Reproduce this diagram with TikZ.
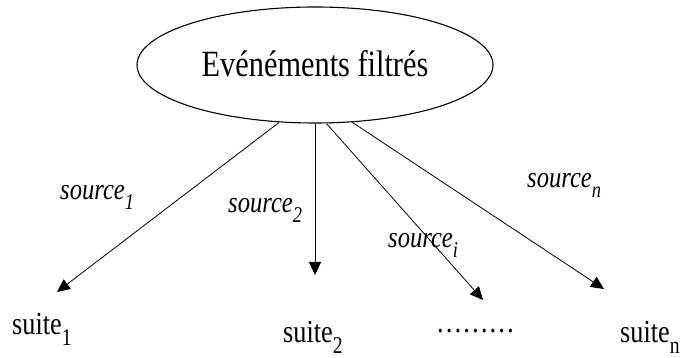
\documentclass[tikz,border=0pt]{standalone}
\usepackage{fontspec}
\setmainfont{Liberation Serif}[FakeStretch=0.82]
\usepackage{graphicx}
\usetikzlibrary{shapes.geometric,arrows.meta}
\newcommand{\lowidx}[1]{\raisebox{-0.32em}{\scalebox{0.75}{#1}}}
\begin{document}
\begin{tikzpicture}[x=1pt,y=1pt,every node/.style={inner sep=0pt,anchor=base west},
    suite/.style={font=\fontsize{32}{36}\selectfont},
    src/.style={font=\fontsize{30}{34}\selectfont\itshape},
    link/.style={-{Triangle[length=13pt,width=12pt]},line width=0.8pt}]
  \useasboundingbox (0,0) rectangle (693,358);
  \node[draw,ellipse,anchor=center,line width=1.1pt,minimum width=356pt,minimum height=116pt,
        text depth=4pt,font=\fontsize{37}{40}\selectfont] (evt) at (315,293) {Evénéments filtrés};
  \node[suite] (s1) at (12,23) {suite\lowidx{1}};
  \node[suite] (s2) at (283,15) {suite\lowidx{2}};
  \node[suite] (sdots) at (436,25) {………};
  \node[suite] (sn) at (620,15) {suite\lowidx{n}};
  \coordinate (t1) at (57,66);
  \coordinate (t2) at (315,83);
  \coordinate (ti) at (483,58);
  \coordinate (tn) at (604,69);
  \draw[link] (evt.238) -- (t1);
  \draw[link] (evt.south) -- (t2);
  \draw[link] (evt.281) -- (ti);
  \draw[link] (evt.303) -- (tn);
  \node[src] (l1) at (60,158) {source\lowidx{1}};
  \node[src] (l2) at (228,145) {source\lowidx{2}};
  \node[src] (li) at (388,110) {source\lowidx{i}};
  \node[src] (ln) at (527,170) {source\lowidx{n}};
\end{tikzpicture}
\end{document}
